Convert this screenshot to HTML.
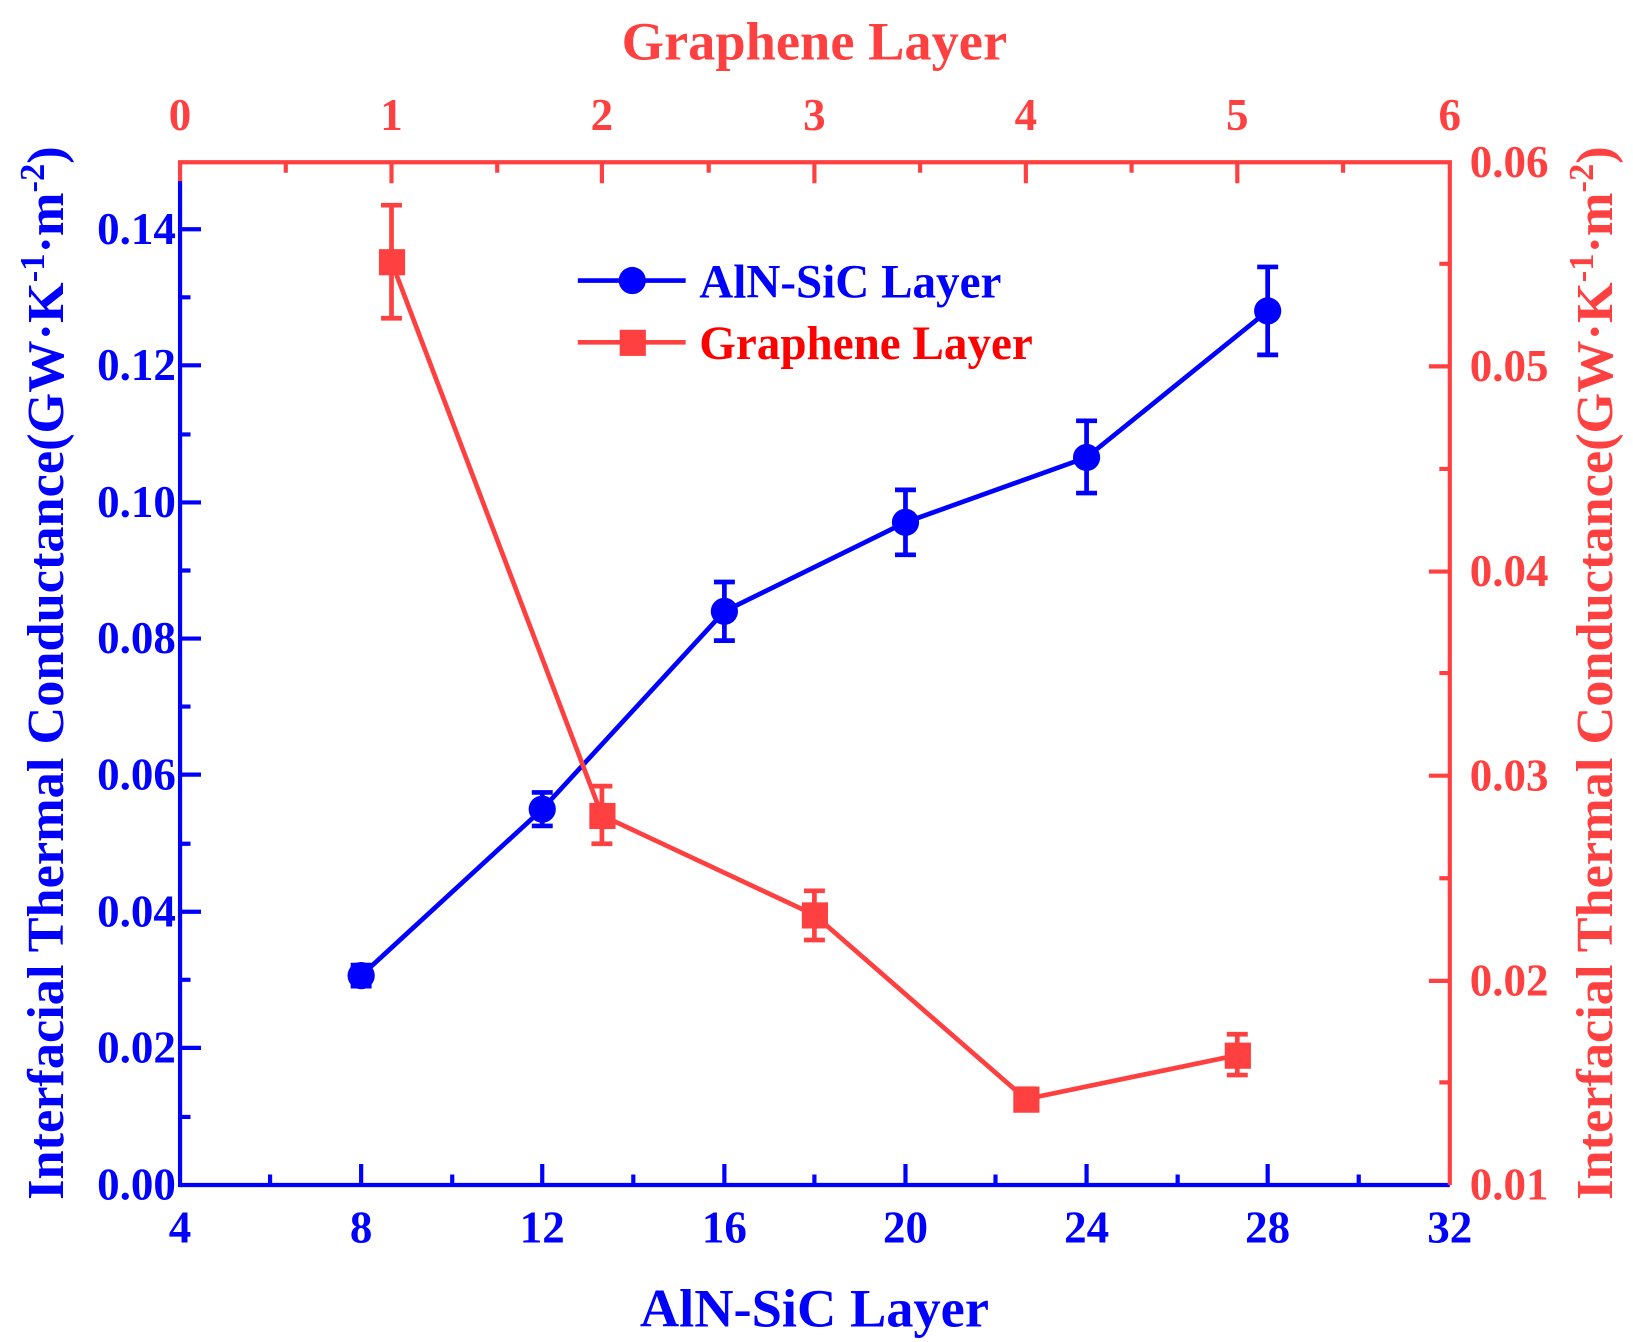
<!DOCTYPE html>
<html><head><meta charset="utf-8"><style>
html,body{margin:0;padding:0;background:#fff;width:1633px;height:1342px;overflow:hidden}
text{font-family:"Liberation Serif",serif;font-weight:bold}
</style></head><body>
<svg width="1633" height="1342" viewBox="0 0 1560 1282" xmlns="http://www.w3.org/2000/svg">
<g stroke="#0000ff" stroke-width="4" fill="none">
<line x1="172" y1="1132" x2="1385" y2="1132"/>
<line x1="172" y1="172" x2="172" y2="1134"/>
<path d="M345 1132v-20M518 1132v-20M692 1132v-20M865 1132v-20M1038 1132v-20M1211 1132v-20M258 1132v-10M432 1132v-10M605 1132v-10M778 1132v-10M951 1132v-10M1125 1132v-10M1298 1132v-10"/>
<path d="M172 1001h20M172 871h20M172 740h20M172 610h20M172 480h20M172 349h20M172 219h20M172 1067h10M172 936h10M172 806h10M172 675h10M172 545h10M172 415h10M172 284h10"/>
</g>
<g stroke="#ff4040" stroke-width="4" fill="none">
<line x1="172" y1="155" x2="1387" y2="155"/>
<line x1="172" y1="153" x2="172" y2="173"/>
<line x1="1385" y1="155" x2="1385" y2="1132"/>
<path d="M374 155v20M575 155v20M778 155v20M980 155v20M1182 155v20M273 155v10M475 155v10M677 155v10M879 155v10M1081 155v10M1283 155v10"/>
<path d="M1385 937h-20M1385 741h-20M1385 546h-20M1385 350h-20M1385 1034h-10M1385 839h-10M1385 643h-10M1385 448h-10M1385 252h-10"/>
</g>
<g stroke="#0000ff" stroke-width="4.5" fill="none">
<polyline points="345,932 518,773 692,584 865,499 1038,437 1211,297"/>
<path d="M345 922v20M335 922h20M335 942h20"/>
<path d="M518 757v32M508 757h20M508 789h20"/>
<path d="M692 556v56M682 556h20M682 612h20"/>
<path d="M865 468v62M855 468h20M855 530h20"/>
<path d="M1038 402v69M1028 402h20M1028 471h20"/>
<path d="M1211 255v84M1201 255h20M1201 339h20"/>
</g>
<g fill="#0000ff">
<circle cx="345" cy="932" r="13"/><circle cx="518" cy="773" r="13"/><circle cx="692" cy="584" r="13"/>
<circle cx="865" cy="499" r="13"/><circle cx="1038" cy="437" r="13"/><circle cx="1211" cy="297" r="13"/>
</g>
<g stroke="#ff4040" stroke-width="4.5" fill="none">
<polyline points="374,250 575,779 778,874 980,1050 1182,1008"/>
<path d="M374 196v108M364 196h20M364 304h20"/>
<path d="M575 751v55M565 751h20M565 806h20"/>
<path d="M778 851v47M768 851h20M768 898h20"/>
<path d="M980 1040v20M970 1040h20M970 1060h20"/>
<path d="M1182 988v39M1172 988h20M1172 1027h20"/>
</g>
<g fill="#ff4040">
<rect x="362" y="238" width="25" height="25"/><rect x="563" y="767" width="25" height="25"/>
<rect x="766" y="862" width="25" height="25"/><rect x="968" y="1038" width="25" height="25"/>
<rect x="1170" y="996" width="25" height="25"/>
</g>
<line x1="552" y1="268" x2="655" y2="268" stroke="#0000ff" stroke-width="4.5"/>
<circle cx="604" cy="268" r="13" fill="#0000ff"/>
<text x="668" y="284" font-size="45" fill="#0000ff">AlN-SiC Layer</text>
<line x1="552" y1="327" x2="655" y2="327" stroke="#ff4040" stroke-width="4.5"/>
<rect x="592" y="315" width="25" height="25" fill="#ff4040"/>
<text x="668" y="343" font-size="45" fill="#ff0000">Graphene Layer</text>
<g font-size="43" fill="#0000ff" text-anchor="middle">
<text x="172" y="1187">4</text><text x="345" y="1187">8</text><text x="518" y="1187">12</text><text x="692" y="1187">16</text>
<text x="865" y="1187">20</text><text x="1038" y="1187">24</text><text x="1211" y="1187">28</text><text x="1385" y="1187">32</text>
</g>
<text x="778" y="1267" font-size="52" fill="#0000ff" text-anchor="middle">AlN-SiC Layer</text>
<g font-size="43" fill="#0000ff" text-anchor="end">
<text x="168" y="1146">0.00</text><text x="168" y="1015">0.02</text><text x="168" y="885">0.04</text><text x="168" y="754">0.06</text>
<text x="168" y="624">0.08</text><text x="168" y="494">0.10</text><text x="168" y="363">0.12</text><text x="168" y="233">0.14</text>
</g>
<g font-size="43" fill="#ff4040" text-anchor="middle">
<text x="172" y="124">0</text><text x="374" y="124">1</text><text x="575" y="124">2</text><text x="778" y="124">3</text>
<text x="980" y="124">4</text><text x="1182" y="124">5</text><text x="1385" y="124">6</text>
</g>
<text x="778" y="57" font-size="52" fill="#ff4040" text-anchor="middle">Graphene Layer</text>
<g font-size="43" fill="#ff4040" text-anchor="start">
<text x="1404" y="1146">0.01</text><text x="1404" y="951">0.02</text><text x="1404" y="755">0.03</text>
<text x="1404" y="560">0.04</text><text x="1404" y="364">0.05</text><text x="1404" y="169">0.06</text>
</g>
<text transform="translate(60,643) rotate(-90)" font-size="50" fill="#0000ff" text-anchor="middle">Interfacial Thermal Conductance(GW·K<tspan dy="-18" font-size="33">-1</tspan><tspan dy="18">·m</tspan><tspan dy="-18" font-size="33">-2</tspan><tspan dy="18">)</tspan></text>
<text transform="translate(1540,643) rotate(-90)" font-size="50" fill="#ff4040" text-anchor="middle">Interfacial Thermal Conductance(GW·K<tspan dy="-18" font-size="33">-1</tspan><tspan dy="18">·m</tspan><tspan dy="-18" font-size="33">-2</tspan><tspan dy="18">)</tspan></text>
</svg>
</body></html>
